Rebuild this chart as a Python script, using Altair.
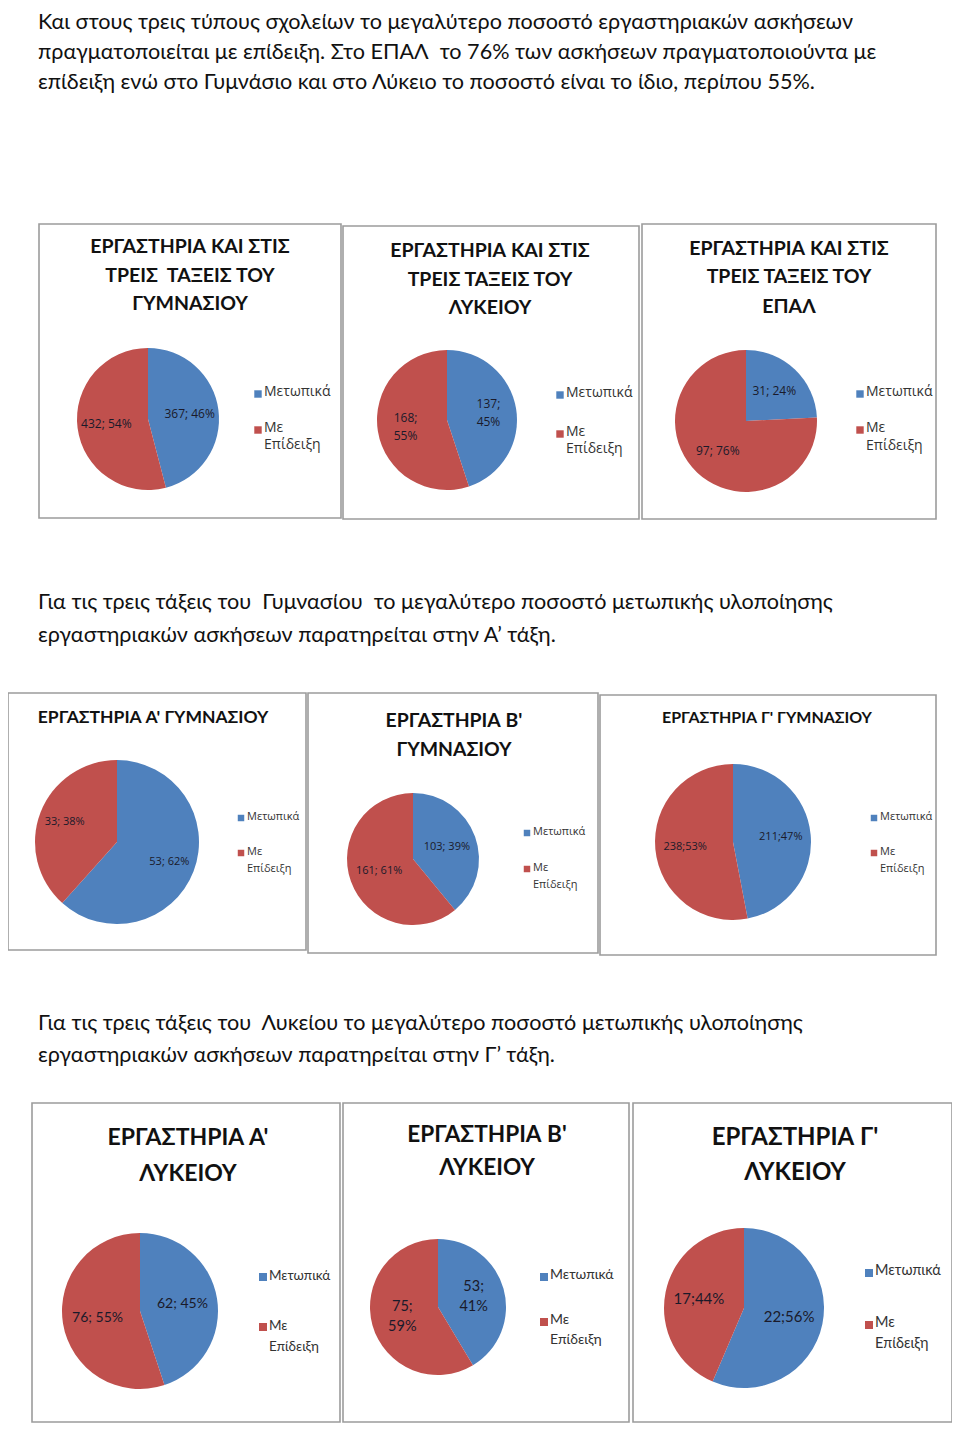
import altair as alt
import pandas as pd

# ---------------- data ----------------
CATEGORIES = ["Μετωπικά", "Με Επίδειξη"]
LEGEND_LABELS = ["Μετωπικά", "Με\nΕπίδειξη"]
COLORS = ["#4F81BD", "#C0504D"]

PARA1 = [
    "Και στους τρεις τύπους σχολείων το μεγαλύτερο ποσοστό εργαστηριακών ασκήσεων",
    "πραγματοποιείται με επίδειξη. Στο ΕΠΑΛ  το 76% των ασκήσεων πραγματοποιούντα με",
    "επίδειξη ενώ στο Γυμνάσιο και στο Λύκειο το ποσοστό είναι το ίδιο, περίπου 55%.",
]
PARA2 = [
    "Για τις τρεις τάξεις του  Γυμνασίου  το μεγαλύτερο ποσοστό μετωπικής υλοποίησης",
    "εργαστηριακών ασκήσεων παρατηρείται στην Α’ τάξη.",
]
PARA3 = [
    "Για τις τρεις τάξεις του  Λυκείου το μεγαλύτερο ποσοστό μετωπικής υλοποίησης",
    "εργαστηριακών ασκήσεων παρατηρείται στην Γ’ τάξη.",
]

TITLES = [
    ["ΕΡΓΑΣΤΗΡΙΑ ΚΑΙ ΣΤΙΣ", "ΤΡΕΙΣ  ΤΑΞΕΙΣ ΤΟΥ", "ΓΥΜΝΑΣΙΟΥ"],
    ["ΕΡΓΑΣΤΗΡΙΑ ΚΑΙ ΣΤΙΣ", "ΤΡΕΙΣ ΤΑΞΕΙΣ ΤΟΥ", "ΛΥΚΕΙΟΥ"],
    ["ΕΡΓΑΣΤΗΡΙΑ ΚΑΙ ΣΤΙΣ", "ΤΡΕΙΣ ΤΑΞΕΙΣ ΤΟΥ", "ΕΠΑΛ"],
    ["ΕΡΓΑΣΤΗΡΙΑ Α' ΓΥΜΝΑΣΙΟΥ"],
    ["ΕΡΓΑΣΤΗΡΙΑ Β'", "ΓΥΜΝΑΣΙΟΥ"],
    ["ΕΡΓΑΣΤΗΡΙΑ Γ' ΓΥΜΝΑΣΙΟΥ"],
    ["ΕΡΓΑΣΤΗΡΙΑ Α'", "ΛΥΚΕΙΟΥ"],
    ["ΕΡΓΑΣΤΗΡΙΑ Β'", "ΛΥΚΕΙΟΥ"],
    ["ΕΡΓΑΣΤΗΡΙΑ Γ'", "ΛΥΚΕΙΟΥ"],
]

# values: [Μετωπικά, Με Επίδειξη]
VALUES = [
    [367, 432],
    [137, 168],
    [31, 97],
    [53, 33],
    [103, 161],
    [211, 238],
    [62, 76],
    [53, 75],
    [22, 17],
]
DATA_LABELS = [
    ["367; 46%", "432; 54%"],
    ["137;\n45%", "168;\n55%"],
    ["31; 24%", "97; 76%"],
    ["53; 62%", "33; 38%"],
    ["103; 39%", "161; 61%"],
    ["211;47%", "238;53%"],
    ["62; 45%", "76; 55%"],
    ["53;\n41%", "75;\n59%"],
    ["22;56%", "17;44%"],
]

# ---------------- layout (page pixels) ----------------
M = 8  # page margin
W, H = 944, 1415

LAYOUT = [
    dict(box=(39, 224, 341, 518), tx=190, ty=[247, 276, 304], tfs=19.5, c=(148, 419), r=71, lr=42,
         lfont="Open Sans", lfs=12, lx=258, ly=[394, 430], gfont="Open Sans", gfs=14, glh=17, sq=55),
    dict(box=(343, 226, 639, 519), tx=490, ty=[251, 280, 308], tfs=19.5, c=(447, 420), r=70, lr=42,
         lfont="Open Sans", lfs=12, lx=560, ly=[395, 434], gfont="Open Sans", gfs=14, glh=17, sq=55),
    dict(box=(642, 224, 936, 519), tx=789, ty=[249, 277, 307], tfs=19.5, c=(746, 421), r=71, lr=41,
         lfont="Open Sans", lfs=12, lx=860, ly=[394, 430], gfont="Open Sans", gfs=14, glh=18, sq=55),
    dict(box=(8, 693, 306, 950), tx=153, ty=[718], tfs=17.5, c=(117, 842), r=82, lr=56,
         lfont="Open Sans", lfs=11, lx=241, ly=[818, 853], gfont="Open Sans", gfs=11, glh=17, sq=42),
    dict(box=(308, 693, 598, 953), tx=454, ty=[721, 750], tfs=19.4, c=(413, 859), r=66, lr=36,
         lfont="Open Sans", lfs=11, lx=527, ly=[833, 869], gfont="Open Sans", gfs=11, glh=17, sq=42),
    dict(box=(600, 695, 936, 955), tx=767, ty=[718], tfs=16, c=(733, 842), r=78, lr=48,
         lfont="Open Sans", lfs=11, lx=874, ly=[818, 853], gfont="Open Sans", gfs=11, glh=17, sq=42),
    dict(box=(32, 1103, 340, 1422), tx=188, ty=[1138, 1174], tfs=23, c=(140, 1311), r=78, lr=43,
         lfont="Lato", lfs=14, lx=263, ly=[1277, 1327], gfont="Lato", gfs=13.5, glh=21, sq=64),
    dict(box=(343, 1103, 629, 1422), tx=487, ty=[1135, 1168], tfs=22.6, c=(438, 1307), r=68, lr=37,
         lfont="Lato", lfs=14.5, lx=544, ly=[1277, 1322], gfont="Lato", gfs=14, glh=20, sq=64),
    dict(box=(633, 1103, 952, 1422), tx=795, ty=[1138, 1173], tfs=24, c=(744, 1308), r=80, lr=46,
         lfont="Lato", lfs=15, lx=869, ly=[1273, 1325], gfont="Lato", gfs=14.5, glh=21, sq=64),
]

# paragraph left x and text baselines
PARA_LAYOUT = [(38, [29, 59, 89]), (38, [609, 642]), (38, [1030, 1062])]


def px(v):
    return v - M


color_scale = alt.Scale(domain=CATEGORIES, range=COLORS)
one = alt.Data(values=[{}])
layers = []

# paragraphs
for lines, (x0, ys) in zip([PARA1, PARA2, PARA3], PARA_LAYOUT):
    for line, y in zip(lines, ys):
        layers.append(
            alt.Chart(one).mark_text(text=line.replace("  ", " \u00a0"), align="left",
                                     baseline="alphabetic", font="Lato", fontSize=21.6, color="#111")
            .encode(x=alt.value(px(x0)), y=alt.value(px(y)))
        )

for i, lay in enumerate(LAYOUT):
    x0, y0, x1, y1 = lay["box"]
    layers.append(
        alt.Chart(one).mark_rect(fill="white", stroke="#9c9c9c", strokeWidth=1.6)
        .encode(x=alt.value(px(x0)), x2=alt.value(px(x1)), y=alt.value(px(y0)), y2=alt.value(px(y1)))
    )
    for line, ty in zip(TITLES[i], lay["ty"]):
        layers.append(
            alt.Chart(one).mark_text(text=line.replace("  ", " \u00a0"), align="center", baseline="middle",
                                     font="Lato", fontWeight="bold", fontSize=lay["tfs"], color="#111")
            .encode(x=alt.value(px(lay["tx"])), y=alt.value(px(ty)))
        )
    df = pd.DataFrame({"cat": CATEGORIES, "v": VALUES[i], "label": DATA_LABELS[i], "k": [0, 1]})
    cx, cy = lay["c"]
    theta = alt.Theta("v:Q", stack="normalize")
    layers.append(
        alt.Chart(df).mark_arc(radius=lay["r"])
        .encode(theta=theta, color=alt.Color("cat:N", scale=color_scale, legend=None),
                order=alt.Order("k:Q"), x=alt.value(px(cx)), y=alt.value(px(cy)))
    )
    multi = any("\n" in s for s in DATA_LABELS[i])
    lh = lay["lfs"] + 6
    layers.append(
        alt.Chart(df).mark_text(radius=lay["lr"], lineBreak="\n", font=lay["lfont"],
                                fontSize=lay["lfs"], color="#1a1a2a", lineHeight=lh,
                                dy=-lh / 2 if multi else 0)
        .encode(theta=theta, detail="cat:N", order=alt.Order("k:Q"), text="label:N",
                x=alt.value(px(cx)), y=alt.value(px(cy)))
    )
    # legend
    for cat, lab, ly in zip(CATEGORIES, LEGEND_LABELS, lay["ly"]):
        ldf = pd.DataFrame({"cat": [cat], "lab": [lab]})
        layers.append(
            alt.Chart(ldf).mark_square(size=lay["sq"], opacity=1)
            .encode(color=alt.Color("cat:N", scale=color_scale, legend=None),
                    x=alt.value(px(lay["lx"])), y=alt.value(px(ly)))
        )
        layers.append(
            alt.Chart(ldf).mark_text(align="left", baseline="top", lineBreak="\n", font=lay["gfont"],
                                     fontSize=lay["gfs"], lineHeight=lay["glh"], color="#333")
            .encode(text="lab:N", x=alt.value(px(lay["lx"] + 6)),
                    y=alt.value(px(ly - 0.62 * lay["gfs"])))
        )

chart = alt.layer(*layers).properties(
    width=W, height=H, padding=0, autosize=alt.AutoSizeParams(type="none")
).configure_view(stroke=None)
chart.save("out.html", embed_options={"renderer": "svg", "actions": False})
